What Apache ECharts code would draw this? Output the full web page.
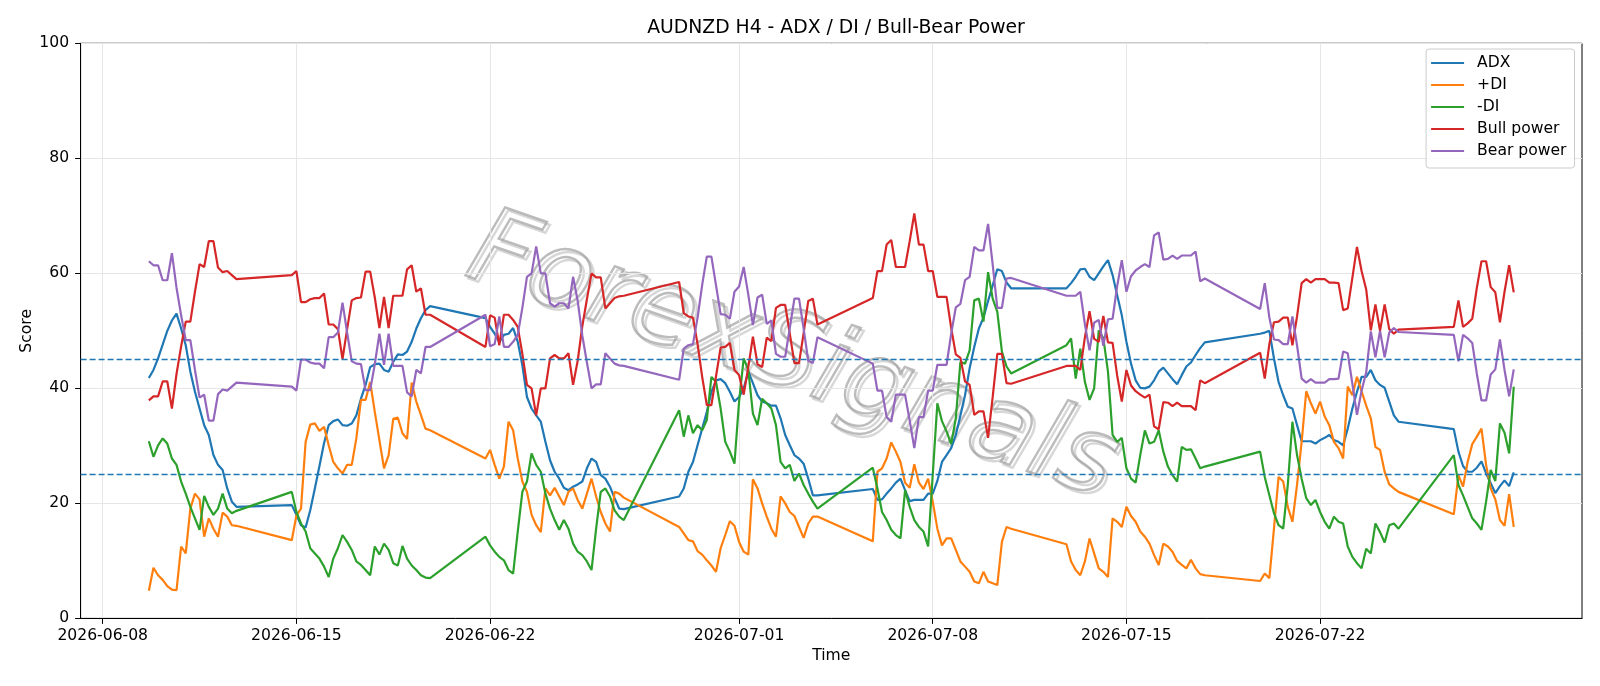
<!DOCTYPE html>
<html>
<head>
<meta charset="utf-8">
<title>AUDNZD H4 - ADX / DI / Bull-Bear Power</title>
<script src="https://cdn.jsdelivr.net/npm/echarts@6/dist/echarts.min.js"></script>
<style>
html, body { margin: 0; padding: 0; background: #fff; }
#chart { width: 1600px; height: 686px; }
</style>
</head>
<body>
<div id="chart"></div>
<script>
// H4 bars, one row per trading week: [first bar (UTC), number of bars]
const sessions = [
  ['2026-06-09T16:00:00Z', 20],
  ['2026-06-14T20:00:00Z', 31],
  ['2026-06-21T20:00:00Z', 31],
  ['2026-06-28T20:00:00Z', 31],
  ['2026-07-05T20:00:00Z', 31],
  ['2026-07-12T20:00:00Z', 31],
  ['2026-07-19T20:00:00Z', 31],
  ['2026-07-26T20:00:00Z', 14]
]

const xTickDates = ['2026-06-08', '2026-06-15', '2026-06-22', '2026-07-01', '2026-07-08', '2026-07-15', '2026-07-22']
const levels = [45, 25]

const adx = [
  41.8, 43.2, 45.2, 47.6, 50.0, 51.8, 53.0, 50.4, 47.5, 42.9, 39.4, 36.5, 33.6, 31.9, 28.4, 26.7, 25.8, 22.6, 20.3, 19.4,
  19.7, 18.0, 16.2, 15.8, 18.8, 22.6, 26.5, 30.5, 33.6, 34.3, 34.6, 33.6, 33.5, 33.9, 35.3, 38.2, 40.6, 43.7, 44.2, 44.3, 43.2, 42.9, 44.6, 45.9, 45.8, 46.4, 48.1, 50.4, 52.2, 53.6, 54.3,
  52.2, 50.7, 49.5, 48.0, 49.3, 49.5, 50.5, 48.1, 44.0, 38.5, 36.5, 35.3, 34.2, 30.7, 27.5, 25.5, 24.3, 22.7, 22.3, 22.9, 23.3, 23.8, 26.1, 27.8, 27.2, 24.9, 24.3, 22.9, 20.9, 19.1, 19.0,
  21.2, 22.6, 25.5, 27.2, 30.1, 33.0, 35.9, 39.4, 41.4, 41.6, 40.9, 39.4, 37.7, 38.5, 40.0, 42.9, 40.9, 38.8, 37.7, 37.4, 37.0, 37.0, 34.8, 31.9, 30.1, 28.4, 27.8, 26.9, 24.3, 21.4, 21.4,
  22.5, 20.6, 20.7, 21.7, 22.6, 23.6, 24.3, 22.3, 20.4, 20.6, 20.6, 20.6, 21.7, 21.7, 23.9, 27.2, 28.4, 29.6, 31.9, 35.3, 38.8, 43.5, 47.2, 50.4, 52.3, 55.2, 57.9, 60.7, 60.4, 58.4, 57.4,
  57.4, 58.3, 59.4, 60.7, 60.8, 59.4, 58.8, 60.0, 61.2, 62.3, 59.7, 56.2, 52.7, 48.1, 44.3, 41.4, 40.1, 40.0, 40.3, 41.4, 42.9, 43.6, 42.6, 41.6, 40.7, 42.3, 43.8, 44.5, 45.8, 47.0, 48.0,
  49.5, 49.7, 50.0, 45.2, 41.1, 38.8, 36.8, 36.5, 33.6, 30.8, 30.8, 30.8, 30.4, 31.0, 31.4, 31.9, 31.0, 30.7, 30.1, 33.0, 36.5, 39.4, 42.0, 42.0, 43.2, 41.4, 40.6, 40.1, 37.7, 35.3, 34.2,
  32.9, 29.0, 26.5, 25.5, 25.5, 26.2, 27.3, 25.2, 23.5, 21.8, 23.0, 24.0, 23.0, 25.4
]

const plusDi = [
  4.8, 8.8, 7.5, 6.7, 5.6, 5.0, 4.9, 12.5, 11.3, 19.1, 21.7, 20.7, 14.2, 17.4, 15.6, 14.2, 18.4, 17.7, 16.2, 16.1,
  13.6, 17.9, 19.1, 30.7, 33.7, 33.9, 32.6, 33.3, 30.1, 27.2, 26.1, 25.2, 26.7, 26.7, 31.3, 38.0, 38.0, 41.1, 35.9, 31.0, 26.1, 28.4, 34.7, 34.9, 32.2, 31.2, 41.0, 37.7, 35.4, 33.0, 32.7,
  27.8, 29.3, 26.7, 24.3, 26.4, 34.2, 32.7, 27.8, 23.8, 22.0, 18.0, 16.2, 15.0, 22.6, 21.4, 22.7, 21.2, 19.7, 22.0, 22.6, 20.6, 19.1, 21.7, 24.3, 21.2, 18.5, 16.5, 15.1, 22.0, 21.7, 21.0,
  15.9, 14.8, 13.6, 13.4, 11.7, 11.1, 10.1, 9.2, 8.1, 12.2, 14.5, 16.9, 16.1, 13.3, 11.6, 11.1, 24.2, 22.6, 20.0, 17.7, 15.6, 14.2, 21.2, 20.0, 18.5, 17.8, 15.9, 14.0, 16.5, 17.7, 17.7,
  13.4, 25.5, 26.1, 27.8, 30.6, 29.0, 27.2, 23.6, 22.7, 26.8, 23.6, 22.5, 24.3, 20.3, 15.6, 12.7, 13.9, 13.9, 11.9, 9.9, 9.0, 8.1, 6.4, 6.1, 8.1, 6.4, 6.1, 5.8, 13.3, 15.9, 15.6,
  12.9, 9.9, 8.4, 7.5, 9.9, 13.9, 11.3, 8.7, 8.1, 7.2, 17.4, 16.8, 15.9, 19.4, 17.8, 16.8, 15.1, 14.2, 13.0, 11.0, 9.3, 13.0, 12.5, 11.6, 10.0, 9.3, 8.7, 10.2, 8.7, 7.7, 7.5,
  6.5, 7.8, 7.0, 15.6, 24.6, 23.8, 19.4, 16.8, 23.2, 30.7, 39.5, 37.4, 35.6, 37.7, 35.1, 33.6, 30.7, 29.6, 27.8, 40.3, 38.8, 42.0, 39.5, 37.0, 34.8, 29.8, 29.3, 25.5, 23.3, 22.6, 22.0,
  18.1, 24.9, 22.9, 27.2, 30.3, 31.6, 33.0, 26.7, 22.6, 20.7, 17.1, 16.1, 21.6, 15.9
]

const minusDi = [
  30.8, 28.1, 30.1, 31.3, 30.4, 27.8, 26.7, 23.8, 21.7, 19.4, 17.4, 15.4, 21.3, 19.4, 18.0, 19.1, 21.7, 19.1, 18.3, 18.7,
  22.0, 18.5, 16.5, 15.1, 12.2, 11.3, 10.4, 9.0, 7.2, 10.4, 12.2, 14.5, 13.3, 11.9, 9.9, 9.3, 8.4, 7.5, 12.5, 11.1, 13.0, 11.9, 9.6, 9.2, 12.6, 10.4, 9.2, 8.4, 7.5, 7.1, 7.0,
  14.2, 12.7, 11.6, 10.7, 10.1, 8.4, 7.8, 15.1, 22.0, 23.8, 28.7, 26.7, 25.5, 21.7, 19.1, 17.1, 15.4, 17.1, 15.6, 13.0, 11.6, 11.0, 9.9, 8.4, 15.6, 22.0, 22.6, 21.2, 18.8, 17.7, 17.1,
  36.2, 31.6, 35.3, 32.2, 33.6, 32.7, 34.5, 42.0, 41.1, 36.5, 30.7, 29.0, 26.9, 37.7, 45.2, 43.2, 35.6, 33.6, 38.2, 37.4, 36.5, 33.6, 27.2, 26.1, 26.7, 23.9, 25.2, 23.2, 21.7, 20.3, 19.1,
  26.2, 22.6, 18.5, 17.1, 15.4, 14.5, 13.9, 22.3, 19.4, 17.1, 15.9, 15.1, 12.5, 25.0, 37.4, 34.3, 32.5, 30.3, 34.8, 44.6, 44.3, 46.6, 55.3, 55.6, 51.6, 60.2, 55.6, 53.3, 46.4, 43.8, 42.6,
  47.5, 48.7, 41.7, 46.9, 41.1, 38.0, 40.0, 50.1, 48.7, 42.9, 31.9, 30.7, 31.4, 26.1, 24.3, 23.6, 28.4, 32.7, 30.4, 30.7, 32.7, 29.0, 26.4, 24.9, 23.8, 29.8, 29.3, 29.4, 27.8, 26.1, 26.4,
  29.0, 24.6, 21.4, 18.3, 16.2, 15.6, 23.2, 34.2, 28.4, 24.3, 20.9, 19.7, 20.6, 18.5, 16.8, 15.6, 17.7, 16.8, 16.5, 12.5, 10.7, 9.6, 8.7, 12.1, 11.3, 16.5, 15.0, 13.2, 16.2, 16.5, 15.6,
  28.4, 23.2, 21.4, 19.4, 17.4, 16.5, 15.4, 20.3, 25.8, 23.9, 33.9, 32.3, 28.7, 40.3
]

const bullPower = [
  37.9, 38.6, 38.6, 41.2, 41.2, 36.5, 42.5, 47.3, 51.6, 51.6, 56.8, 61.6, 61.1, 65.6, 65.6, 61.0, 60.2, 60.4, 59.7, 59.0,
  59.7, 60.4, 55.0, 55.0, 55.5, 55.7, 55.7, 56.5, 51.1, 51.1, 50.3, 45.1, 50.3, 55.3, 55.7, 55.8, 60.3, 60.3, 55.8, 50.5, 55.9, 50.5, 56.1, 56.1, 56.1, 60.7, 61.4, 56.8, 57.4, 52.8, 52.8,
  47.2, 52.7, 52.3, 47.5, 52.8, 52.8, 51.9, 50.7, 46.0, 40.6, 40.0, 35.3, 40.0, 40.0, 45.2, 45.8, 45.2, 45.2, 46.1, 40.6, 44.8, 50.8, 55.5, 60.0, 59.3, 59.3, 53.9, 54.8, 55.7, 56.0, 56.1,
  58.5, 53.1, 52.5, 52.3, 47.7, 42.0, 37.1, 37.1, 42.1, 47.1, 47.2, 47.9, 43.2, 42.3, 38.9, 43.7, 49.0, 44.2, 43.7, 48.8, 48.2, 54.0, 54.5, 54.5, 49.5, 44.4, 44.4, 49.6, 55.2, 55.6, 51.1,
  55.7, 60.4, 60.4, 65.0, 65.8, 61.1, 61.1, 61.1, 65.6, 70.4, 65.0, 65.0, 60.4, 60.4, 55.9, 55.9, 55.9, 50.5, 45.9, 45.3, 41.2, 40.6, 35.4, 36.0, 36.0, 31.4, 38.5, 46.0, 46.0, 40.9, 40.8,
  43.9, 43.9, 43.9, 43.2, 48.9, 53.4, 48.6, 48.1, 52.6, 48.0, 47.9, 42.2, 37.7, 43.2, 40.5, 39.5, 38.9, 38.4, 38.9, 33.4, 32.9, 37.6, 37.5, 36.9, 37.5, 36.9, 36.9, 36.9, 36.2, 41.4, 40.9,
  46.2, 41.7, 47.7, 51.5, 51.6, 52.3, 52.3, 47.5, 52.5, 58.3, 59.0, 58.4, 59.0, 59.0, 59.0, 58.4, 58.4, 58.3, 53.6, 53.9, 59.2, 64.6, 60.4, 57.2, 50.1, 54.6, 50.0, 54.6, 50.3, 49.5, 50.2,
  50.7, 55.3, 50.7, 51.3, 52.1, 57.5, 62.1, 62.1, 57.6, 56.7, 51.5, 56.8, 61.4, 56.7
]

const bearPower = [
  62.1, 61.4, 61.4, 58.8, 58.8, 63.5, 57.5, 52.7, 48.4, 48.4, 43.2, 38.4, 38.9, 34.4, 34.4, 39.0, 39.8, 39.6, 40.3, 41.0,
  40.3, 39.6, 45.0, 45.0, 44.5, 44.3, 44.3, 43.5, 48.9, 48.9, 49.7, 54.9, 49.7, 44.7, 44.3, 44.2, 39.7, 39.7, 44.2, 49.5, 44.1, 49.5, 43.9, 43.9, 43.9, 39.3, 38.6, 43.2, 42.6, 47.2, 47.2,
  52.8, 47.3, 47.7, 52.5, 47.2, 47.2, 48.1, 49.3, 54.0, 59.4, 60.0, 64.7, 60.0, 60.0, 54.8, 54.2, 54.8, 54.8, 53.9, 59.4, 55.2, 49.2, 44.5, 40.0, 40.7, 40.7, 46.1, 45.2, 44.3, 44.0, 43.9,
  41.5, 46.9, 47.5, 47.7, 52.3, 58.0, 62.9, 62.9, 57.9, 52.9, 52.8, 52.1, 56.8, 57.7, 61.1, 56.3, 51.0, 55.8, 56.3, 51.2, 51.8, 46.0, 45.5, 45.5, 50.5, 55.6, 55.6, 50.4, 44.8, 44.4, 48.9,
  44.3, 39.6, 39.6, 35.0, 34.2, 38.9, 38.9, 38.9, 34.4, 29.6, 35.0, 35.0, 39.6, 39.6, 44.1, 44.1, 44.1, 49.5, 54.1, 54.7, 58.8, 59.4, 64.6, 64.0, 64.0, 68.6, 61.5, 54.0, 54.0, 59.1, 59.2,
  56.1, 56.1, 56.1, 56.8, 51.1, 46.6, 51.4, 51.9, 47.4, 52.0, 52.1, 57.8, 62.3, 56.8, 59.5, 60.5, 61.1, 61.6, 61.1, 66.6, 67.1, 62.4, 62.5, 63.1, 62.5, 63.1, 63.1, 63.1, 63.8, 58.6, 59.1,
  53.8, 58.3, 52.3, 48.5, 48.4, 47.7, 47.7, 52.5, 47.5, 41.7, 41.0, 41.6, 41.0, 41.0, 41.0, 41.6, 41.6, 41.7, 46.4, 46.1, 40.8, 35.4, 39.6, 42.8, 49.9, 45.4, 50.0, 45.4, 49.7, 50.5, 49.8,
  49.3, 44.7, 49.3, 48.7, 47.9, 42.5, 37.9, 37.9, 42.4, 43.3, 48.5, 43.2, 38.6, 43.3
]

// timestamps of every bar
const H4 = 4 * 3600 * 1000
const times = []
sessions.forEach(([start, n]) => {
  const t0 = Date.parse(start)
  for (let i = 0; i < n; i++) times.push(t0 + i * H4)
})

const pair = vals => vals.map((v, i) => [times[i], v])

// matplotlib style 5% margins on the time axis
const tFirst = times[0]
const tLast = times[times.length - 1]
const pad = (tLast - tFirst) * 0.05

const font = 'DejaVu Sans'
const fs = 15.6
const tickMs = xTickDates.map(d => Date.parse(d + 'T00:00:00Z'))

const chart = echarts.init(document.getElementById('chart'), null, { renderer: 'canvas' })

function line(name, data, color) {
  return {
    name: name,
    type: 'line',
    data: pair(data),
    symbol: 'none',
    showSymbol: false,
    lineStyle: { color: color, width: 2.2 },
    itemStyle: { color: color },
    animation: false
  }
}

const series = [
  line('ADX', adx, '#1f77b4'),
  line('+DI', plusDi, '#ff7f0e'),
  line('-DI', minusDi, '#2ca02c'),
  line('Bull power', bullPower, '#d62728'),
  line('Bear power', bearPower, '#9467bd')
]
series[4].markLine = {
  silent: true,
  symbol: ['none', 'none'],
  label: { show: false },
  lineStyle: { color: '#1f77b4', type: [6, 3], width: 1.4 },
  data: levels.map(v => ({ yAxis: v }))
}

// faint diagonal watermark behind the lines
const watermark = [
  { dx: 3, dy: 3, stroke: 'rgba(140,140,140,0.35)' },
  { dx: 0, dy: 0, stroke: 'rgba(160,160,160,0.7)' }
].map(s => ({
  type: 'text',
  x: 792 + s.dx,
  y: 360 + s.dy,
  rotation: -0.335,
  silent: true,
  z: 0,
  style: {
    text: 'ForexSignals',
    font: 'italic 106px "DejaVu Sans"',
    fill: 'rgba(255,255,255,0)',
    stroke: s.stroke,
    lineWidth: 2.4,
    align: 'center',
    verticalAlign: 'middle'
  }
}))

chart.setOption({
  animation: false,
  backgroundColor: '#ffffff',
  textStyle: { fontFamily: font },
  graphic: watermark,
  title: {
    text: 'AUDNZD H4 - ADX / DI / Bull-Bear Power',
    left: 831,
    textAlign: 'center',
    top: 14,
    textStyle: { fontFamily: font, fontSize: 18.8, fontWeight: 'normal', color: '#000' }
  },
  legend: {
    orient: 'vertical',
    right: 25.5,
    top: 49,
    icon: 'rect',
    itemWidth: 33,
    itemHeight: 2.2,
    itemGap: 6,
    padding: [6, 8, 9, 5],
    backgroundColor: 'rgba(255,255,255,0.8)',
    borderColor: '#cccccc',
    borderWidth: 1,
    borderRadius: 3,
    textStyle: { fontFamily: font, fontSize: fs, lineHeight: 16, color: '#000', padding: [0, 0, 0, 8] },
    data: ['ADX', '+DI', '-DI', 'Bull power', 'Bear power']
  },
  grid: {
    left: 80.6,
    right: 18,
    top: 43.3,
    bottom: 67.6,
    show: true,
    borderColor: '#000',
    borderWidth: 1
  },
  xAxis: {
    type: 'value',
    min: tFirst - pad,
    max: tLast + pad,
    name: 'Time',
    nameLocation: 'middle',
    nameGap: 30,
    nameMoveOverlap: false,
    nameTextStyle: { fontFamily: font, fontSize: fs, color: '#000' },
    axisLine: { show: true, lineStyle: { color: '#000', width: 1 } },
    axisTick: { show: true, length: 5.5, lineStyle: { color: '#000' }, customValues: tickMs },
    axisLabel: {
      customValues: tickMs,
      margin: 10,
      fontFamily: font,
      fontSize: fs,
      color: '#000',
      formatter: v => new Date(v).toISOString().slice(0, 10)
    },
    splitLine: { show: true, lineStyle: { color: '#e6e6e6', width: 1 } }
  },
  yAxis: {
    type: 'value',
    min: 0,
    max: 100,
    interval: 20,
    name: 'Score',
    nameLocation: 'middle',
    nameGap: 46,
    nameMoveOverlap: false,
    nameTextStyle: { fontFamily: font, fontSize: fs, color: '#000' },
    axisLine: { show: true, lineStyle: { color: '#000', width: 1 } },
    axisTick: { show: true, length: 5.5, lineStyle: { color: '#000' } },
    axisLabel: { margin: 11.5, fontFamily: font, fontSize: fs, color: '#000' },
    splitLine: { show: true, lineStyle: { color: '#e6e6e6', width: 1 } }
  },
  series: series
})
</script>
</body>
</html>
